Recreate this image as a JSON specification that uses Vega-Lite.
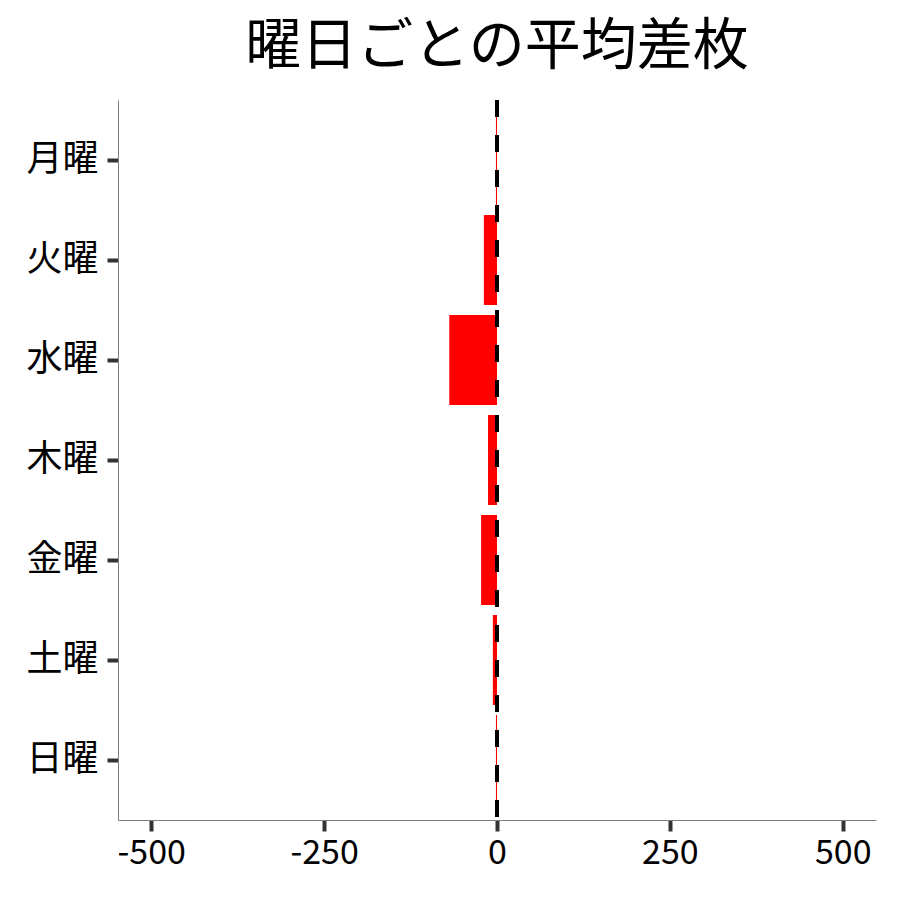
{
  "$schema": "https://vega.github.io/schema/vega-lite/v6.json",
  "title": {
    "text": "曜日ごとの平均差枚",
    "font": "Noto Sans CJK JP",
    "fontSize": 56,
    "fontWeight": "normal",
    "color": "black",
    "anchor": "middle",
    "frame": "group",
    "offset": 22
  },
  "autosize": "none",
  "padding": {"left": 118, "top": 100, "right": 24, "bottom": 80},
  "width": 758,
  "height": 720,
  "config": {
    "view": {"stroke": null},
    "font": "Noto Sans CJK JP"
  },
  "data": {
    "values": [
      {"weekday": "月曜", "diff": -1.5},
      {"weekday": "火曜", "diff": -19},
      {"weekday": "水曜", "diff": -69},
      {"weekday": "木曜", "diff": -13},
      {"weekday": "金曜", "diff": -23},
      {"weekday": "土曜", "diff": -6},
      {"weekday": "日曜", "diff": -1.5}
    ]
  },
  "layer": [
    {
      "mark": {"type": "bar", "color": "#FF0000"},
      "encoding": {
        "y": {
          "field": "weekday",
          "type": "nominal",
          "sort": ["月曜", "火曜", "水曜", "木曜", "金曜", "土曜", "日曜"],
          "scale": {"paddingInner": 0.1, "paddingOuter": 0.15},
          "axis": {
            "title": null,
            "labelFont": "Noto Sans CJK JP",
            "labelFontSize": 36,
            "labelColor": "black",
            "labelPadding": 9,
            "domainColor": "#7f7f7f",
            "domainWidth": 1,
            "tickColor": "#333333",
            "tickWidth": 4,
            "tickSize": 11,
            "grid": false
          }
        },
        "x": {
          "field": "diff",
          "type": "quantitative",
          "scale": {"domain": [-548, 548], "nice": false, "zero": false},
          "axis": {
            "title": null,
            "values": [-500, -250, 0, 250, 500],
            "labelExpr": "replace(datum.label, '−', '-')",
            "labelFont": "Noto Sans CJK JP",
            "labelFontSize": 34,
            "labelColor": "black",
            "labelPadding": 5,
            "domainColor": "#7f7f7f",
            "domainWidth": 1,
            "tickColor": "#333333",
            "tickWidth": 4,
            "tickSize": 11,
            "grid": false
          }
        }
      }
    },
    {
      "mark": {"type": "rule", "color": "black", "strokeWidth": 4, "strokeDash": [17, 18]},
      "encoding": {
        "x": {"datum": 0, "type": "quantitative"}
      }
    }
  ]
}
